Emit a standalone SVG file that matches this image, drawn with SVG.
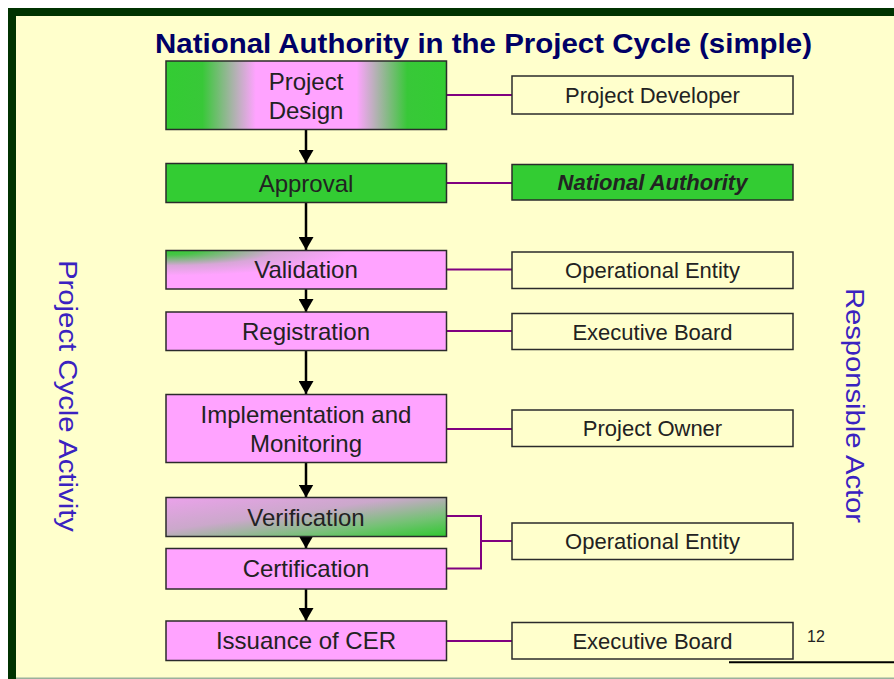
<svg xmlns="http://www.w3.org/2000/svg" width="894" height="679" viewBox="0 0 894 679">
<style>
.box{stroke:#2b2b2b;stroke-width:1.5}
.pink{fill:#FFA3FF}
.green{fill:#33CC33}
.actor{fill:#FFFFCC;stroke:#2b2b2b;stroke-width:1.5}
.lt{font-family:"Liberation Sans",Arial,sans-serif;font-size:24px;fill:#222;text-anchor:middle}
.rt{font-family:"Liberation Sans",Arial,sans-serif;font-size:22px;fill:#222;text-anchor:middle}
.side{font-family:"Liberation Sans",Arial,sans-serif;fill:#3A22C0;text-anchor:middle}
.link{stroke:#800080;stroke-width:2;fill:none}
.flow{stroke:#000;stroke-width:2.5;fill:none;marker-end:url(#ah)}
</style>
<defs>
<marker id="ah" markerUnits="userSpaceOnUse" viewBox="0 0 13 15" refX="13" refY="7.5" markerWidth="13" markerHeight="15" orient="auto">
<path d="M0,0 L13,7.5 L0,15 z" fill="#000"/>
</marker>
<linearGradient id="gDesign" x1="0" y1="0" x2="1" y2="0">
<stop offset="0" stop-color="#33CC33"/>
<stop offset="0.13" stop-color="#38C838"/>
<stop offset="0.32" stop-color="#FFA3FF"/>
<stop offset="0.68" stop-color="#FFA3FF"/>
<stop offset="0.86" stop-color="#38C838"/>
<stop offset="1" stop-color="#33CC33"/>
</linearGradient>
<radialGradient id="gVal" cx="0" cy="0" r="0.65">
<stop offset="0" stop-color="#33CC33"/>
<stop offset="0.18" stop-color="#48C448"/>
<stop offset="0.6" stop-color="#D8A6D8"/>
<stop offset="1" stop-color="#FFA3FF"/>
</radialGradient>
<linearGradient id="gVer" x1="0" y1="0" x2="1" y2="1">
<stop offset="0" stop-color="#EBA2EB"/>
<stop offset="0.42" stop-color="#CBA8CB"/>
<stop offset="0.74" stop-color="#74C274"/>
<stop offset="1" stop-color="#2FC82F"/>
</linearGradient>
</defs>

<rect x="0" y="0" width="894" height="679" fill="#FFFFFF"/>
<rect x="8" y="8" width="886" height="671" fill="#FFFFCC"/>
<rect x="8" y="8" width="886" height="8" fill="#003300"/>
<rect x="8" y="8" width="8" height="671" fill="#003300"/>
<line x1="16" y1="678.3" x2="894" y2="678.3" stroke="#9CB09C" stroke-width="1.5"/>

<text x="483.5" y="53" font-family="'Liberation Sans',Arial,sans-serif" font-size="27" font-weight="bold" fill="#000066" text-anchor="middle" textLength="657" lengthAdjust="spacingAndGlyphs">National Authority in the Project Cycle (simple)</text>

<text class="side" font-size="25" transform="translate(58.5,396) rotate(90)" textLength="272" lengthAdjust="spacingAndGlyphs">Project Cycle Activity</text>
<text class="side" font-size="26" transform="translate(845.5,405.5) rotate(90)" textLength="235" lengthAdjust="spacingAndGlyphs">Responsible Actor</text>

<g id="connectors">
<line class="flow" x1="306" y1="130" x2="306" y2="163"/>
<line class="flow" x1="306" y1="202.5" x2="306" y2="250"/>
<line class="flow" x1="306" y1="289" x2="306" y2="312"/>
<line class="flow" x1="306" y1="350.5" x2="306" y2="394"/>
<line class="flow" x1="306" y1="462.5" x2="306" y2="497.5"/>
<line class="flow" x1="306" y1="530" x2="306" y2="548.5"/>
<line class="flow" x1="306" y1="589" x2="306" y2="621"/>
<line class="link" x1="446.5" y1="95" x2="512" y2="95"/>
<line class="link" x1="446.5" y1="183" x2="512" y2="183"/>
<line class="link" x1="446.5" y1="269.5" x2="512" y2="269.5"/>
<line class="link" x1="446.5" y1="331" x2="512" y2="331"/>
<line class="link" x1="446.5" y1="429" x2="512" y2="429"/>
<path class="link" d="M446.5,516 H481 V568.5 H446.5 M481,541 H512"/>
<line class="link" x1="446.5" y1="641" x2="512" y2="641"/>
</g>

<g id="design"><rect class="box" x="166" y="61" width="280.5" height="68.5" fill="url(#gDesign)"/><text class="lt" x="306" y="90">Project</text><text class="lt" x="306" y="118.5">Design</text></g>
<g id="approval"><rect class="box green" x="166" y="163.5" width="280.5" height="39"/><text class="lt" x="306" y="191.8">Approval</text></g>
<g id="validation"><rect class="box" x="166" y="250.5" width="280.5" height="38.5" fill="url(#gVal)"/><text class="lt" x="306" y="278.4">Validation</text></g>
<g id="registration"><rect class="box pink" x="166" y="312" width="280.5" height="38.5"/><text class="lt" x="306" y="339.8">Registration</text></g>
<g id="implementation"><rect class="box pink" x="166" y="394.5" width="280.5" height="68"/><text class="lt" x="306" y="423">Implementation and</text><text class="lt" x="306" y="452">Monitoring</text></g>
<g id="verification"><rect class="box" x="166" y="497.5" width="280.5" height="39" fill="url(#gVer)"/><text class="lt" x="306" y="525.7">Verification</text></g>
<g id="certification"><rect class="box pink" x="166" y="548.5" width="280.5" height="40.5"/><text class="lt" x="306" y="577.4">Certification</text></g>
<g id="issuance"><rect class="box pink" x="166" y="621" width="280.5" height="39.5"/><text class="lt" x="306" y="649.4">Issuance of CER</text></g>

<g id="developer"><rect class="actor" x="512" y="76" width="281" height="38"/><text class="rt" x="652.5" y="103.3">Project Developer</text></g>
<g id="authority"><rect class="box green" x="512" y="164.5" width="281" height="35.5"/><text class="rt" x="652.5" y="190.3" font-weight="bold" font-style="italic" fill="#000">National Authority</text></g>
<g id="oe1"><rect class="actor" x="512" y="252" width="281" height="36.5"/><text class="rt" x="652.5" y="278.3">Operational Entity</text></g>
<g id="eb1"><rect class="actor" x="512" y="313.5" width="281" height="36"/><text class="rt" x="652.5" y="339.5">Executive Board</text></g>
<g id="owner"><rect class="actor" x="512" y="410" width="281" height="36.5"/><text class="rt" x="652.5" y="436.3">Project Owner</text></g>
<g id="oe2"><rect class="actor" x="512" y="523" width="281" height="36.5"/><text class="rt" x="652.5" y="549.3">Operational Entity</text></g>
<g id="eb2"><rect class="actor" x="512" y="622.5" width="281" height="36.5"/><text class="rt" x="652.5" y="648.8">Executive Board</text></g>

<text x="807" y="641.5" font-family="'Liberation Sans',Arial,sans-serif" font-size="16" fill="#222">12</text>
<line x1="729" y1="662.3" x2="894" y2="662.3" stroke="#000" stroke-width="2"/>
</svg>
